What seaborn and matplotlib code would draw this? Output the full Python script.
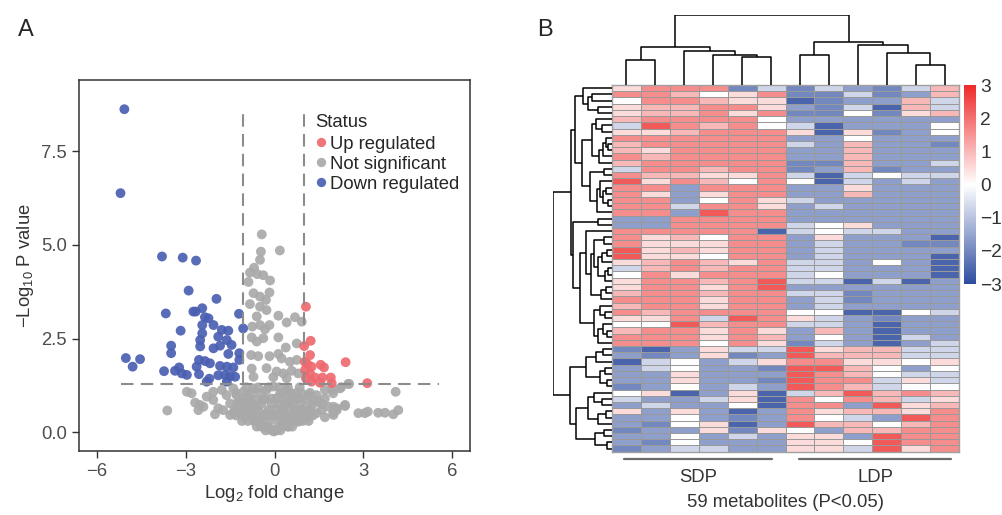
import numpy as np
import pandas as pd
import matplotlib
matplotlib.use('Agg')
import matplotlib.pyplot as plt
import seaborn as sns
from matplotlib.colors import LinearSegmentedColormap

# ---------------- volcano data ----------------
down_fc = [-5.07, -5.20, -3.80, -3.10, -2.65, -2.90, -1.96, -3.67, -2.74, -2.66, -2.44, -1.20,
           -2.35, -2.23, -2.06, -2.44, -1.06, -3.17, -1.78, -1.56, -2.44, -2.51, -1.90, -1.61,
           -3.49, -2.51, -2.06, -1.84, -1.45, -3.49, -1.56, -1.19, -2.55, -2.35, -2.18, -1.19,
           -5.02, -4.54, -4.79, -3.73, -3.22, -3.36, -3.13, -2.96, -2.63, -2.55, -1.84, -1.61,
           -1.39, -1.90, -1.67, -1.50, -1.33, -2.20, -2.29, -1.61]
down_p = [8.62, 6.38, 4.69, 4.66, 4.58, 3.78, 3.56, 3.17, 3.22, 3.22, 3.31, 3.16,
          3.07, 3.04, 2.86, 2.86, 2.77, 2.71, 2.73, 2.71, 2.64, 2.46, 2.55, 2.46,
          2.31, 2.29, 2.24, 2.31, 2.33, 2.11, 2.09, 2.11, 1.93, 1.90, 1.84, 1.93,
          1.98, 1.95, 1.75, 1.63, 1.73, 1.64, 1.57, 1.53, 1.75, 1.55, 1.77, 1.75,
          1.73, 1.52, 1.53, 1.50, 1.48, 1.43, 1.35, 1.35]
up_fc = [1.06, 1.22, 1.00, 1.20, 2.40, 1.56, 1.67, 1.02, 1.11, 1.25, 1.03, 1.20,
         1.37, 1.62, 1.90, 1.06, 1.25, 1.54, 1.93, 3.13]
up_p = [3.35, 2.44, 2.30, 2.06, 1.87, 1.80, 1.73, 1.88, 1.82, 1.75, 1.66, 1.57,
        1.46, 1.46, 1.46, 1.44, 1.35, 1.32, 1.31, 1.31]
ns_fc = [-0.43, 0.18, -0.46, -0.49, -0.69, -0.83, -0.58, -0.38, -0.88, -0.15, -0.71, -0.17,
         -0.49, -0.29, -0.83, -0.49, -0.27, -0.60, 0.13, 0.69, 0.92, 0.41, -0.75, -0.49,
         -0.32, -0.17, -0.77, -0.60, -0.38, 0.13, 0.75, 0.38, -0.79, -0.55, -0.17, 0.13,
         0.24, 0.52, 0.75, -0.27, -0.77, 0.07, 0.30, 0.58, 0.80, -0.71, -0.04, 0.41,
         -2.96, -2.80, -3.62, -2.68, -2.52, -2.29, -2.07, -1.90, -2.01, -1.73, -1.50, -1.28,
         -1.39, -1.17, -1.00, -0.83, -0.66, -0.49, -0.32, -0.15, -0.02, 0.13, 0.30, 0.41,
         0.64, 0.86, 1.08, 1.31, 1.42, 1.70, 1.98, 2.21, 2.49, 1.82, 1.98, 2.38,
         2.83, 3.05, 3.50, 3.73, 4.01, 4.18, 4.09, 1.42, 1.70, 2.10, 1.08, 0.80,
         0.47, -0.60, -0.94, -0.38, 0.07, 0.41, 0.64, 0.92, -0.72, -1.05, -1.39, -1.62,
         -1.78, -2.07, -2.40, -2.57, -0.27, -0.04, 0.19, -0.88, -0.55, -0.27, 0.07, 0.30,
         0.52, 0.86, 1.14, 1.48, -1.22, -1.50, -1.00, -0.72, -0.38, -0.10, 0.19, 0.52,
         0.86, 1.25, 1.59, 1.99, 2.10, 2.38, 1.99, 3.15, 2.52, 2.25, 1.96,
         # dense core near the origin
         -0.30, -0.10, 0.05, 0.20, -0.60, -0.45, -0.25, 0.25, 0.45, 0.60,
         -1.10, -0.90, -0.70, -0.50, 0.50, 0.70, 0.95, 1.15,
         -1.30, -1.10, -0.85, -0.60, -0.35, -0.10, 0.15, 0.35, 0.60, 0.80, 1.00, 1.30,
         -1.35, -1.10, -0.90, -0.65, -0.20, 0.05, 0.25, 0.45, 0.70, 0.95, 1.20,
         -1.25, -1.05, -0.75, -0.45, -0.10, 0.15, 0.35, 0.60, 1.30, 1.60,
         -1.15, -0.85, -0.30, -0.10, 0.25, 0.50, 0.80, 1.05, 1.70,
         -1.30, -0.75, -0.45, 0.30, 0.55, 0.75, 1.20,
         -0.95, -0.55, -0.20, 0.15, 0.45, 0.85]
ns_p = [5.28, 4.85, 4.82, 4.60, 4.39, 4.26, 4.22, 4.19, 4.01, 4.05, 3.71, 3.73,
        3.62, 3.53, 3.42, 3.35, 3.26, 3.09, 3.11, 3.07, 2.95, 2.93, 2.82, 2.86,
        2.75, 2.86, 2.53, 2.42, 2.51, 2.53, 2.37, 2.26, 2.06, 2.03, 2.03, 2.09,
        1.97, 1.88, 1.93, 1.71, 1.70, 1.62, 1.57, 1.64, 1.57, 1.48, 1.47, 1.44,
        1.08, 1.04, 0.58, 0.79, 0.73, 0.95, 0.86, 0.64, 0.48, 0.59, 0.77, 0.99,
        0.51, 0.59, 0.42, 0.51, 0.33, 0.24, 0.15, 0.10, 0.02, 0.15, 0.24, 0.42,
        0.51, 0.59, 0.68, 0.86, 0.99, 1.13, 1.04, 1.17, 1.29, 0.68, 0.52, 0.73,
        0.51, 0.51, 0.52, 0.52, 0.48, 0.59, 1.08, 0.51, 0.40, 0.59, 0.37, 0.28,
        0.15, 0.86, 0.95, 0.86, 0.91, 1.13, 0.95, 1.04, 1.17, 1.08, 1.17, 0.99,
        1.13, 1.08, 0.68, 0.59, 1.13, 1.22, 1.04, 0.77, 0.59, 0.51, 0.46, 0.64,
        0.82, 0.82, 0.99, 0.82, 0.82, 0.46, 0.68, 0.46, 0.37, 0.33, 0.33, 0.33,
        0.42, 0.51, 0.59, 0.68, 0.64, 0.70, 0.46, 0.55, 1.29, 1.20, 1.13,
        0.05, 0.05, 0.05, 0.05, 0.15, 0.15, 0.15, 0.15, 0.15, 0.15,
        0.30, 0.30, 0.30, 0.30, 0.30, 0.30, 0.30, 0.30,
        0.45, 0.45, 0.45, 0.45, 0.45, 0.45, 0.45, 0.45, 0.45, 0.45, 0.45, 0.45,
        0.60, 0.60, 0.60, 0.60, 0.60, 0.60, 0.60, 0.60, 0.60, 0.60, 0.60,
        0.75, 0.75, 0.75, 0.75, 0.75, 0.75, 0.75, 0.75, 0.75, 0.75,
        0.90, 0.90, 0.90, 0.90, 0.90, 0.90, 0.90, 0.90, 0.90,
        1.05, 1.05, 1.05, 1.05, 1.05, 1.05, 1.05,
        1.20, 1.20, 1.20, 1.20, 1.20, 1.20]
status_order = ['Up regulated', 'Not significant', 'Down regulated']
p_cut = 1.3          # -log10(0.05)
fc_cut = [-1.07, 1.0]

# ---------------- heatmap data ----------------
groups = ['SDP', 'LDP']
# one letter per cell, 6 SDP + 6 LDP samples, rows in plotted order
heat_rows = [
    'qrrrbc' 'bclbcp', 'rrpwqr' 'bbcblp', 'wrrpqq' 'Bbllpc', 'qpprrq' 'lbcBpc',
    'qpprqr' 'bbwbqp', 'prrrrw' 'llllll', 'cRrprw' 'cBlllw', 'qqprrr' 'qBqblw',
    'rrrrrr' 'llwlll', 'prrrrr' 'clpllb', 'pqrrrr' 'llplll', 'rprrrr' 'llplll',
    'prrrrr' 'bbpllc', 'crrprr' 'blpbll', 'rppqqr' 'cBcwcc', 'Rqrpwr' 'wBclcl',
    'rrlrrr' 'llqlll', 'rqlqrr' 'llplll', 'rrlwrq' 'clllll', 'rrcrrq' 'lcllll',
    'rrlRrr' 'llllll', 'llrrrr' 'llllll', 'llrrrr' 'cwqlll', 'rrrrrB' 'cwccll',
    'rqpwrr' 'lqlllB', 'rqqqrr' 'lcllbb', 'Rqpqrr' 'lcllll', 'Rqqwrr' 'lclllB',
    'qprpqr' 'cclwlB', 'cprprr' 'cclllB', 'wrqrrr' 'cwlllB', 'qrrprR' 'ccBcBl',
    'qrrqrR' 'llllll', 'prrprr' 'ccblll', 'rrrqrr' 'lcblll', 'prrqrr' 'lcllll',
    'rprrrr' 'wwBBwc', 'qqrcRr' 'qclbll', 'wwRprr' 'cclBll', 'prrqrq' 'lplBll',
    'rrrqrp' 'lwlBcl', 'rrrwrq' 'bclBlc', 'bBlqcc' 'Rqppcc', 'lblqbl' 'Rpppcc',
    'Bcwlcq' 'rrqqwq', 'lcwllb' 'RRpwlw', 'llqlll' 'Rrpwcc', 'llqllb' 'Rrrcqc',
    'blwlcl' 'Rrpcww', 'wqBlqB' 'cpRprp', 'cllcqB' 'rwrpcq', 'lcllwB' 'rrlRqp',
    'qlqlBl' 'rqppqr', 'llwlbl' 'rwclRr', 'lbwqBl' 'Rppwpr', 'bllqbq' 'wlpprr',
    'llwlcl' 'qqlRrr', 'lbwlll' 'qqwRrr', 'blccll' 'qqcRqr',
]
level = {'B': -2.6, 'b': -2.0, 'l': -1.6, 'c': -0.7, 'w': 0.0,
         'q': 0.5, 'p': 1.0, 'r': 1.6, 'R': 2.3}

# dendrograms given as merge height between neighbouring leaves
col_gaps = [25, 38.3, 34.3, 30, 28.3, 70, 30, 43.3, 40, 32.3, 20]
row_gaps = [29, 20, 24, 14,
            37.3,
            16, 10, 20, 6, 4, 9, 13,
            30,
            8, 22, 12, 6, 9, 4, 15,
            40.5,
            14, 39,
            26,
            8, 18, 5, 10, 14, 4, 7, 21, 6, 11,
            32,
            12, 7, 18, 9, 5, 14,
            59,
            9, 16, 25.7, 7, 12, 5,
            42,
            18, 10, 24, 6, 14, 36, 8, 17, 5]


def dendro(gaps, lo, hi):
    # split at the largest gap, recursively -> (position, height, links)
    if lo == hi:
        return lo + 0.5, 0.0, []
    k = lo + int(np.argmax(gaps[lo:hi]))
    p1, h1, s1 = dendro(gaps, lo, k)
    p2, h2, s2 = dendro(gaps, k + 1, hi)
    link = [(p1, h1), (p1, gaps[k]), (p2, gaps[k]), (p2, h2)]
    return (p1 + p2) / 2, gaps[k], s1 + s2 + [link]


sns.set_style('white')
plt.rcParams['font.family'] = ['Liberation Sans', 'DejaVu Sans']
plt.rcParams['mathtext.fontset'] = 'custom'
plt.rcParams['mathtext.rm'] = 'Liberation Sans'
plt.rcParams['mathtext.it'] = 'Liberation Sans:italic'
FS = 13.3

fig = plt.figure(figsize=(10.03, 5.15), dpi=100)

# ---------------- panel A ----------------
ax = fig.add_axes([0.0788, 0.1243, 0.3898, 0.7204])
vol = pd.concat([
    pd.DataFrame({'fc': ns_fc, 'p': ns_p, 'Status': 'Not significant'}),
    pd.DataFrame({'fc': up_fc, 'p': up_p, 'Status': 'Up regulated'}),
    pd.DataFrame({'fc': down_fc, 'p': down_p, 'Status': 'Down regulated'}),
], ignore_index=True)
pal = {'Up regulated': '#EE6A70', 'Not significant': '#A9A9A9', 'Down regulated': '#4A5FB2'}
sns.scatterplot(data=vol, x='fc', y='p', hue='Status', hue_order=status_order,
                palette=pal, s=50, alpha=0.92, linewidth=0, ax=ax)
dash = dict(color='#8C8C8C', lw=1.5, ls=(0, (6, 3.5)), zorder=3)
ax.plot([-5.2, 5.57], [p_cut, p_cut], **dash)
for xv in fc_cut:
    ax.plot([xv, xv], [p_cut, 8.57], **dash)
ax.set_xlim(-6.6, 6.6)
ax.set_ylim(-0.5, 9.4)
ax.set_xticks([-6, -3, 0, 3, 6])
ax.set_yticks([0, 2.5, 5, 7.5])
ax.set_yticklabels(['0.0', '2.5', '5.0', '7.5'])
ax.tick_params(length=5, width=1, color='#333333', labelsize=FS, labelcolor='#4d4d4d',
               direction='out', bottom=True, left=True)
for sp in ax.spines.values():
    sp.set_color('#333333')
    sp.set_linewidth(1.1)
ax.set_xlabel('Log$_2$ fold change', fontsize=FS, color='#333333', labelpad=2)
ax.set_ylabel('\u2212Log$_{10}$ P value', fontsize=FS, color='#333333', labelpad=4)
leg = ax.legend(title='Status', loc='upper left', bbox_to_anchor=(0.605, 0.909),
                frameon=False, fontsize=FS, title_fontsize=FS, handletextpad=0.2,
                handlelength=0.6, labelspacing=0.17, borderaxespad=0, borderpad=0,
                markerscale=0.95)
leg._legend_box.align = 'left'
leg._legend_box.sep = 3.5
fig.text(0.018, 0.93, 'A', fontsize=17)

# ---------------- panel B ----------------
heat = pd.DataFrame([[level[ch] for ch in r] for r in heat_rows],
                    columns=[f'{g}{i + 1}' for g in groups for i in range(6)])
cmap = LinearSegmentedColormap.from_list('bwr_ph', ['#2E4D9F', '#FFFFFF', '#EE2A2A'])

ax_h = fig.add_axes([0.6102, 0.1229, 0.346, 0.712])
ax_cb = fig.add_axes([0.961, 0.4485, 0.012, 0.386])
sns.heatmap(heat, ax=ax_h, cmap=cmap, vmin=-3, vmax=3, linewidths=0.6, linecolor='#999999',
            xticklabels=False, yticklabels=False, cbar_ax=ax_cb,
            cbar_kws={'ticks': [-3, -2, -1, 0, 1, 2, 3]})
for sp in ax_h.spines.values():
    sp.set_visible(True)
    sp.set_color('#A0A0A0')
    sp.set_linewidth(1.0)
ax_cb.tick_params(length=0, labelsize=FS + 0.5, pad=3, labelcolor='#333333')
ax_h.collections[0].colorbar.outline.set_visible(False)

# column dendrogram
ax_ct = fig.add_axes([0.6102, 0.835, 0.346, 0.1359])
for link in dendro(col_gaps, 0, len(col_gaps))[2]:
    xs, ys = zip(*link)
    ax_ct.plot(xs, ys, color='black', lw=1.1, solid_capstyle='butt')
ax_ct.set_xlim(0, 12)
ax_ct.set_ylim(0, max(col_gaps))
ax_ct.axis('off')

# row dendrogram
ax_rt = fig.add_axes([0.5513, 0.1229, 0.0588, 0.712])
for link in dendro(row_gaps, 0, len(row_gaps))[2]:
    hs, ps = zip(*[(h, p) for p, h in link])
    ax_rt.plot(hs, ps, color='black', lw=1.1, solid_capstyle='butt')
ax_rt.set_ylim(len(heat_rows), 0)
ax_rt.set_xlim(max(row_gaps), 0)
ax_rt.axis('off')

# group bars and labels
ax_h.plot([0.42, 5.54], [60.2, 60.2], color='#6B6B6B', lw=1.6, clip_on=False)
ax_h.plot([6.47, 11.73], [60.2, 60.2], color='#6B6B6B', lw=1.6, clip_on=False)
ax_h.text(2.98, 63.1, groups[0], ha='center', va='center', fontsize=FS, color='#333333')
ax_h.text(9.1, 63.1, groups[1], ha='center', va='center', fontsize=FS, color='#333333')
ax_h.text(6.0, 67.2, f'{len(heat_rows)} metabolites (P<0.05)', ha='center', va='center',
          fontsize=FS, color='#333333')
fig.text(0.536, 0.93, 'B', fontsize=17)

fig.savefig('out.png', dpi=100)
